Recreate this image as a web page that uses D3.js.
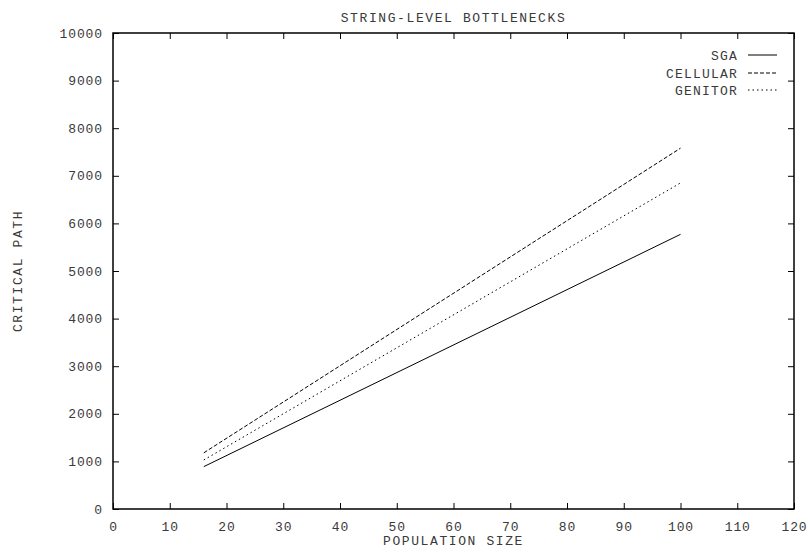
<!DOCTYPE html>
<html>
<head>
<meta charset="utf-8">
<script src="https://cdn.jsdelivr.net/npm/d3@7"></script>
<style>
  html, body { margin: 0; padding: 0; background: #fff; }
  svg text { font-family: "Liberation Mono", "DejaVu Sans Mono", monospace; fill: #3a3a3a; }
</style>
</head>
<body>
<svg id="chart" width="809" height="548"></svg>
<script>
// Critical path length versus population size for three GA models
const popSize = [16, 100];
const sgaPath = [890, 5770];
const cellularPath = [1180, 7580];
const genitorPath = [1030, 6850];

const xTicks = [0, 10, 20, 30, 40, 50, 60, 70, 80, 90, 100, 110, 120];
const yTicks = [0, 1000, 2000, 3000, 4000, 5000, 6000, 7000, 8000, 9000, 10000];

const seriesNames = ["SGA", "CELLULAR", "GENITOR"];
const seriesValues = [sgaPath, cellularPath, genitorPath];
const seriesDash = [null, "4,2", "1.5,3"];

const svg = d3.select("#chart");
const m = { left: 113, right: 794, top: 33, bottom: 509 };

const x = d3.scaleLinear().domain([0, 120]).range([m.left, m.right]);
const y = d3.scaleLinear().domain([0, 10000]).range([m.bottom, m.top]);

const tickLen = 6;
const fmt = d3.format("d");

function styleLabels(g) {
  g.attr("font-family", null).attr("font-size", null);
  g.selectAll("text")
    .attr("font-size", 13)
    .attr("letter-spacing", "0.9px")
    .attr("fill", "#3a3a3a");
}

// Bottom axis with labels, inward ticks
svg.append("g")
  .attr("transform", `translate(0,${m.bottom})`)
  .call(d3.axisBottom(x).tickValues(xTicks).tickFormat(fmt).tickSizeInner(-tickLen).tickSizeOuter(0).tickPadding(13))
  .call(g => g.select(".domain").remove())
  .call(styleLabels);

// Top mirror ticks
svg.append("g")
  .attr("transform", `translate(0,${m.top})`)
  .call(d3.axisTop(x).tickValues(xTicks).tickSizeInner(-tickLen).tickSizeOuter(0).tickFormat(""))
  .call(g => g.select(".domain").remove());

// Left axis with labels
svg.append("g")
  .attr("transform", `translate(${m.left},0)`)
  .call(d3.axisLeft(y).tickValues(yTicks).tickFormat(fmt).tickSizeInner(-tickLen).tickSizeOuter(0).tickPadding(10))
  .call(g => g.select(".domain").remove())
  .call(styleLabels);

// Right mirror ticks
svg.append("g")
  .attr("transform", `translate(${m.right},0)`)
  .call(d3.axisRight(y).tickValues(yTicks).tickSizeInner(-tickLen).tickSizeOuter(0).tickFormat(""))
  .call(g => g.select(".domain").remove());

svg.selectAll(".tick line").attr("stroke", "#000").attr("stroke-width", 1);

// Plot frame
svg.append("rect")
  .attr("x", m.left).attr("y", m.top)
  .attr("width", m.right - m.left).attr("height", m.bottom - m.top)
  .attr("fill", "none").attr("stroke", "#000").attr("stroke-width", 1.5);

// Series lines
const line = d3.line().x(d => x(d[0])).y(d => y(d[1]));
seriesValues.forEach((vals, i) => {
  svg.append("path")
    .datum(popSize.map((p, j) => [p, vals[j]]))
    .attr("d", line)
    .attr("fill", "none")
    .attr("stroke", "#000")
    .attr("stroke-width", 1)
    .attr("stroke-dasharray", seriesDash[i]);
});

// Legend
const legendY = [55, 73, 90];
seriesNames.forEach((name, i) => {
  svg.append("text")
    .attr("x", 738).attr("y", legendY[i])
    .attr("dy", "0.35em")
    .attr("text-anchor", "end")
    .attr("font-size", 13)
    .attr("letter-spacing", "1.2px")
    .text(name);
  svg.append("line")
    .attr("x1", 748).attr("x2", 777)
    .attr("y1", legendY[i]).attr("y2", legendY[i])
    .attr("stroke", "#000").attr("stroke-width", 1)
    .attr("stroke-dasharray", seriesDash[i]);
});

// Title and axis titles
svg.append("text")
  .attr("x", (m.left + m.right) / 2).attr("y", 22)
  .attr("text-anchor", "middle").attr("font-size", 13).attr("letter-spacing", "1.6px")
  .text("STRING-LEVEL BOTTLENECKS");

svg.append("text")
  .attr("x", (m.left + m.right) / 2).attr("y", 545)
  .attr("text-anchor", "middle").attr("font-size", 13).attr("letter-spacing", "1.6px")
  .text("POPULATION SIZE");

svg.append("text")
  .attr("transform", `translate(22,${(m.top + m.bottom) / 2}) rotate(-90)`)
  .attr("text-anchor", "middle").attr("font-size", 13).attr("letter-spacing", "1.6px")
  .text("CRITICAL PATH");
</script>
</body>
</html>
